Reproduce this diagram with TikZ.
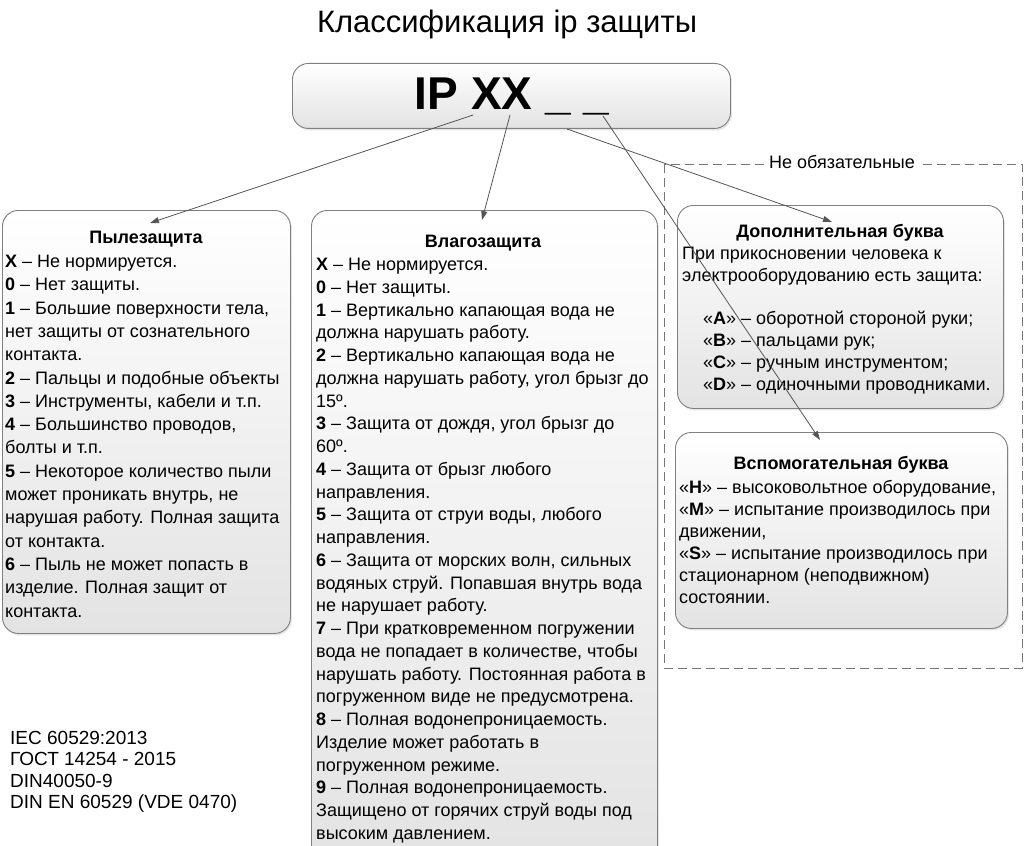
\documentclass[tikz,border=0pt]{standalone}
\usepackage{fontspec}
\setmainfont{Liberation Sans}
\usetikzlibrary{shadows,arrows.meta}
\definecolor{edgec}{HTML}{808080}
\definecolor{shadec}{HTML}{E3E3E3}
\definecolor{midc}{HTML}{F8F8F8}
\definecolor{arrowc}{HTML}{555555}
\definecolor{dashc}{HTML}{777777}
\begin{document}
\begin{tikzpicture}[x=1pt,y=-1pt,
  box/.style={draw=edgec, line width=0.9pt, rounded corners=16pt, top color=white, middle color=midc, bottom color=shadec,
    drop shadow={shadow xshift=1.5pt, shadow yshift=-2pt, opacity=0.2}, anchor=north west, inner sep=0pt},
  body/.style={anchor=north west, align=left, inner sep=0pt, font=\fontsize{18}{23.3}\selectfont},
  rbody/.style={anchor=north west, align=left, inner sep=0pt, font=\fontsize{18}{22}\selectfont},
  head/.style={anchor=base, inner sep=0pt, font=\fontsize{18}{22}\selectfont\bfseries},
  conn/.style={draw=arrowc, line width=0.8pt, -{Triangle[length=9pt,width=6pt]}}
]
\useasboundingbox (0,0) rectangle (1024,845);
\clip (0,0) rectangle (1024,845);
\fill[white] (0,0) rectangle (1024,845);

% title
\node[anchor=base, inner sep=0pt, font=\fontsize{31}{34}\selectfont] (title) at (507,33) {Классификация ip защиты};

% IP box
\node[box, minimum width=438pt, minimum height=65pt] (ip) at (292,63) {};
\node[anchor=base, inner sep=0pt, font=\fontsize{46}{50}\selectfont\bfseries] (iptext) at (512,110) {IP XX \_ \_};

% dashed optional frame
\draw[dashc, line width=0.9pt, dash pattern=on 9pt off 5pt] (664,164) rectangle (1022,668);
\node[fill=white, inner xsep=3pt, inner ysep=1pt, font=\fontsize{18}{20}\selectfont] (opt) at (842,162) {Не обязательные};

% boxes
\node[box, minimum width=288pt, minimum height=423pt] (dust) at (2,210) {};
\node[box, minimum width=346pt, minimum height=660pt] (water) at (311,210) {};
\node[box, minimum width=326pt, minimum height=203pt] (extra) at (677,205) {};
\node[box, minimum width=332pt, minimum height=196pt] (aux) at (675,432) {};

% dust text
\node[head] (dusth) at (146,243) {Пылезащита};
\node[body] (dustt) at (5,255) {\textbf{X} – Не нормируется.\\
\textbf{0} – Нет защиты.\\
\textbf{1} – Большие поверхности тела,\\
нет защиты от сознательного\\
контакта.\\
\textbf{2} – Пальцы и подобные объекты\\
\textbf{3} – Инструменты, кабели и т.п.\\
\textbf{4} – Большинство проводов,\\
болты и т.п.\\
\textbf{5} – Некоторое количество пыли\\
может проникать внутрь, не\\
нарушая работу. Полная защита\\
от контакта.\\
\textbf{6} – Пыль не может попасть в\\
изделие. Полная защит от\\
контакта.};

% water text
\node[head] (waterh) at (483,247) {Влагозащита};
\node[body, font=\fontsize{18}{22.75}\selectfont] (watert) at (316,258) {\textbf{X} – Не нормируется.\\
\textbf{0} – Нет защиты.\\
\textbf{1} – Вертикально капающая вода не\\
должна нарушать работу.\\
\textbf{2} – Вертикально капающая вода не\\
должна нарушать работу, угол брызг до\\
15º.\\
\textbf{3} – Защита от дождя, угол брызг до\\
60º.\\
\textbf{4} – Защита от брызг любого\\
направления.\\
\textbf{5} – Защита от струи воды, любого\\
направления.\\
\textbf{6} – Защита от морских волн, сильных\\
водяных струй. Попавшая внутрь вода\\
не нарушает работу.\\
\textbf{7} – При кратковременном погружении\\
вода не попадает в количестве, чтобы\\
нарушать работу. Постоянная работа в\\
погруженном виде не предусмотрена.\\
\textbf{8} – Полная водонепроницаемость.\\
Изделие может работать в\\
погруженном режиме.\\
\textbf{9} – Полная водонепроницаемость.\\
Защищено от горячих струй воды под\\
высоким давлением.};

% extra letter
\node[head] (extrah) at (840,237) {Дополнительная буква};
\node[rbody] (extrat1) at (682,247) {При прикосновении человека к\\
электрооборудованию есть защита:};
\node[rbody] (extrat2) at (703,311) {«\textbf{A}» – оборотной стороной руки;\\
«\textbf{B}» – пальцами рук;\\
«\textbf{C}» – ручным инструментом;\\
«\textbf{D}» – одиночными проводниками.};

% auxiliary letter
\node[head] (auxh) at (841,469) {Вспомогательная буква};
\node[rbody] (auxt) at (679,480) {«\textbf{H}» – высоковольтное оборудование,\\
«\textbf{M}» – испытание производилось при\\
движении,\\
«\textbf{S}» – испытание производилось при\\
стационарном (неподвижном)\\
состоянии.};

% standards
\node[anchor=north west, align=left, inner sep=0pt, font=\fontsize{19}{21.3}\selectfont] (std) at (10,731) {IEC 60529:2013\\
ГОСТ 14254 - 2015\\
DIN40050-9\\
DIN EN 60529 (VDE 0470)};

% connectors
\coordinate (s1) at (473,115);
\coordinate (e1) at (150,223);
\coordinate (s2) at (510,115);
\coordinate (e2) at (482,220);
\coordinate (s3) at (567,129);
\coordinate (e3) at (832,222);
\coordinate (s4) at (603,116);
\coordinate (e4) at (820,440);
\draw[conn] (s1) -- (e1);
\draw[conn] (s2) -- (e2);
\draw[conn] (s3) -- (e3);
\draw[conn] (s4) -- (e4);
\end{tikzpicture}
\end{document}
